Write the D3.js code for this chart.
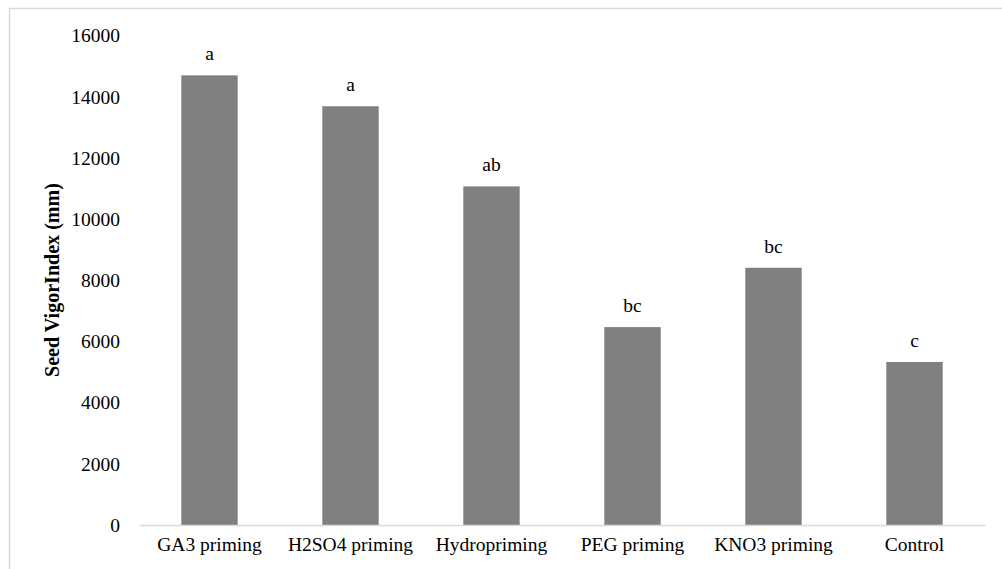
<!DOCTYPE html>
<html><head><meta charset="utf-8">
<script src="https://cdn.jsdelivr.net/npm/d3@7"></script>
<style>body{margin:0;background:#fff}svg{display:block}
text{font-family:"Liberation Serif","Times New Roman",Times,serif !important;}
</style>
</head><body>
<script>
const categories = ["GA3 priming","H2SO4 priming","Hydropriming","PEG priming","KNO3 priming","Control"];
const values = [14700, 13690, 11070, 6470, 8410, 5330];
const letters = ["a","a","ab","bc","bc","c"];
const yTicks = [0,2000,4000,6000,8000,10000,12000,14000,16000];

const W = 1002, H = 569;
const svg = d3.select("body").append("svg").attr("width", W).attr("height", H);

svg.append("rect").attr("x",9.5).attr("y",8.5).attr("width",1000).attr("height",580)
  .attr("fill","#fff").attr("stroke","#d9d9d9").attr("stroke-width",1.5);

const m = {left:139, right:985, top:35.6, bottom:525};
const x = d3.scaleBand().domain(categories).range([m.left, m.right]).paddingInner(0.6).paddingOuter(0.3);
const y = d3.scaleLinear().domain([0,16000]).range([m.bottom, m.top]);

svg.selectAll("rect.bar").data(values).join("rect").attr("class","bar")
  .attr("x",(d,i)=>x(categories[i])).attr("width",x.bandwidth())
  .attr("y",d=>y(d)).attr("height",d=>y(0)-y(d)).attr("fill","#808080");

svg.selectAll("text.lt").data(values).join("text").attr("class","lt")
  .attr("x",(d,i)=>x(categories[i])+x.bandwidth()/2).attr("y",d=>y(d)-15)
  .attr("text-anchor","middle").style("font-size","19.5px").attr("fill","#000")
  .text((d,i)=>letters[i]);

const ya = svg.append("g").attr("transform",`translate(${m.left},0)`)
  .call(d3.axisLeft(y).tickValues(yTicks).tickSize(0).tickPadding(19).tickFormat(d3.format("d")));
ya.select(".domain").remove();
ya.selectAll("text").style("font-size","19.5px").attr("fill","#000");

const xa = svg.append("g").attr("transform",`translate(0,${m.bottom})`)
  .call(d3.axisBottom(x).tickSize(0).tickPadding(12));
xa.select(".domain").attr("stroke","#d9d9d9").attr("stroke-width",1.5);
xa.selectAll("text").style("font-size","19.5px").attr("fill","#000");

const yl = svg.append("text").attr("transform",`translate(59,280) rotate(-90)`)
  .attr("text-anchor","middle").style("font-size","20px").style("font-weight","bold")
  .text("Seed VigorIndex (mm)");
const len = yl.node().getComputedTextLength();
if (len > 0) yl.style("font-size", (20*194/len).toFixed(2)+"px");
</script>
</body></html>
